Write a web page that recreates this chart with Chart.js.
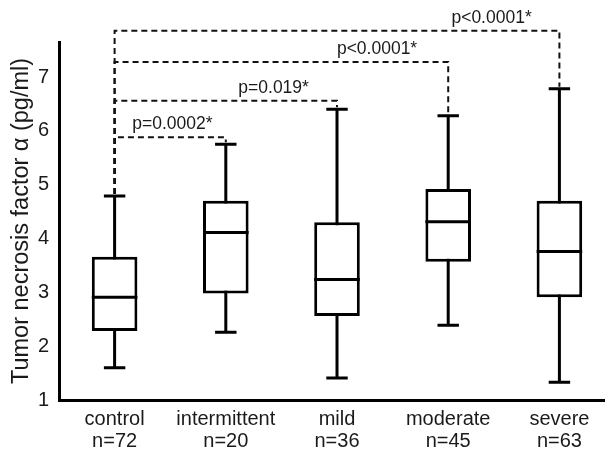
<!DOCTYPE html>
<html>
<head>
<meta charset="utf-8">
<script src="https://cdn.jsdelivr.net/npm/chart.js@4"></script>
<style>
  html, body { margin: 0; padding: 0; background: #fff; overflow: hidden; }
  #wrap { width: 605px; height: 449px; }
</style>
</head>
<body>
<div id="wrap"><canvas id="chart"></canvas></div>
<script>
const groups = ['control', 'intermittent', 'mild', 'moderate', 'severe'];
const counts = [72, 20, 36, 45, 63];
const whiskerLow = [1.60, 2.26, 1.41, 2.39, 1.33];
const q1 = [2.28, 2.98, 2.56, 3.57, 2.91];
const median = [2.91, 4.11, 3.24, 4.31, 3.76];
const q3 = [3.66, 4.70, 4.30, 4.92, 4.70];
const whiskerHigh = [4.79, 5.75, 6.40, 6.28, 6.78];

// each group compared with control
const compareTo = [1, 2, 3, 4];
const pLabels = ['p=0.0002*', 'p=0.019*', 'p<0.0001*', 'p<0.0001*'];
const bracketLevels = [5.88, 6.56, 7.28, 7.86];

Chart.defaults.font.family = '"Liberation Sans", Arial, sans-serif';
Chart.defaults.color = '#1a1a1a';

const LINE = 3;

const boxExtras = {
    id: 'boxExtras',
    beforeDatasetsDraw(chart) {
        // whisker stems, the white box covers the middle part
        const {ctx, scales: {x, y}} = chart;
        ctx.save();
        ctx.strokeStyle = '#000';
        ctx.lineWidth = LINE;
        groups.forEach((g, i) => {
            const px = x.getPixelForValue(i);
            ctx.beginPath();
            ctx.moveTo(px, y.getPixelForValue(whiskerLow[i]));
            ctx.lineTo(px, y.getPixelForValue(whiskerHigh[i]));
            ctx.stroke();
        });
        ctx.restore();
    },
    afterDatasetsDraw(chart) {
        const {ctx, scales: {x, y}} = chart;
        const bars = chart.getDatasetMeta(0).data;
        ctx.save();
        ctx.strokeStyle = '#000';
        ctx.lineWidth = LINE;
        groups.forEach((g, i) => {
            const px = x.getPixelForValue(i);
            const half = bars[i].width / 2;
            const cap = bars[i].width * 0.235;
            const yMed = y.getPixelForValue(median[i]);
            ctx.beginPath();
            ctx.moveTo(px - half, yMed);
            ctx.lineTo(px + half, yMed);
            [whiskerLow[i], whiskerHigh[i]].forEach(v => {
                const py = y.getPixelForValue(v);
                ctx.moveTo(px - cap, py);
                ctx.lineTo(px + cap, py);
            });
            ctx.stroke();
        });
        ctx.restore();
    },
    afterDraw(chart, args, opts) {
        const {ctx, scales: {x, y}} = chart;
        ctx.save();
        ctx.strokeStyle = '#111';
        ctx.lineWidth = 2;
        ctx.setLineDash([6, 4]);
        ctx.font = '17.5px "Liberation Sans", Arial, sans-serif';
        ctx.fillStyle = '#1a1a1a';
        ctx.textAlign = 'center';
        ctx.textBaseline = 'alphabetic';
        compareTo.forEach((t, k) => {
            const x0 = x.getPixelForValue(0);
            const xt = x.getPixelForValue(t);
            const yl = y.getPixelForValue(bracketLevels[k]);
            ctx.beginPath();
            ctx.moveTo(x0, y.getPixelForValue(whiskerHigh[0]) - 2);
            ctx.lineTo(x0, yl);
            ctx.lineTo(xt, yl);
            ctx.lineTo(xt, y.getPixelForValue(whiskerHigh[t]) - 2);
            ctx.stroke();
            ctx.fillText(pLabels[k], x.getPixelForValue(opts.labelX[k]), yl - 8);
        });
        ctx.restore();
    }
};

const ctx = document.getElementById('chart').getContext('2d');
const chart = new Chart(ctx, {
    type: 'bar',
    data: {
        datasets: [{
            data: groups.map((g, i) => ({x: i, y: [q1[i], q3[i]]})),
            backgroundColor: '#fff',
            borderColor: '#000',
            borderWidth: LINE,
            borderSkipped: false,
            barPercentage: 0.41,
            categoryPercentage: 1
        }]
    },
    options: {
        responsive: true,
        maintainAspectRatio: false,
        animation: false,
        layout: { padding: { top: 42, right: 0, left: 0, bottom: 0 } },
        plugins: {
            legend: { display: false },
            tooltip: { enabled: false },
            boxExtras: { labelX: [0.52, 1.43, 2.36, 3.39] }
        },
        scales: {
            x: {
                type: 'linear',
                min: -0.5,
                max: 4.41,
                offset: false,
                grid: { display: false, drawTicks: false, offset: false },
                border: { display: true, color: '#000', width: 3 },
                ticks: {
                    stepSize: 1,
                    includeBounds: false,
                    padding: 8,
                    maxRotation: 0,
                    autoSkip: false,
                    font: { size: 20, lineHeight: 1.1 },
                    callback: (v) => Number.isInteger(v) && groups[v] ? [groups[v], 'n=' + counts[v]] : ''
                },
                afterFit: (s) => { s.height = 49; }
            },
            y: {
                min: 1,
                max: 7.65,
                beginAtZero: false,
                grid: { display: false, drawTicks: false },
                border: { display: true, color: '#000', width: 3 },
                ticks: {
                    stepSize: 1,
                    includeBounds: false,
                    padding: 10,
                    font: { size: 20 }
                },
                title: {
                    display: true,
                    text: 'Tumor necrosis factor α (pg/ml)',
                    font: { size: 23.5 },
                    padding: { top: 7, bottom: 0 }
                },
                afterFit: (s) => { s.width = 59; }
            }
        }
    },
    plugins: [boxExtras]
});
</script>
</body>
</html>
